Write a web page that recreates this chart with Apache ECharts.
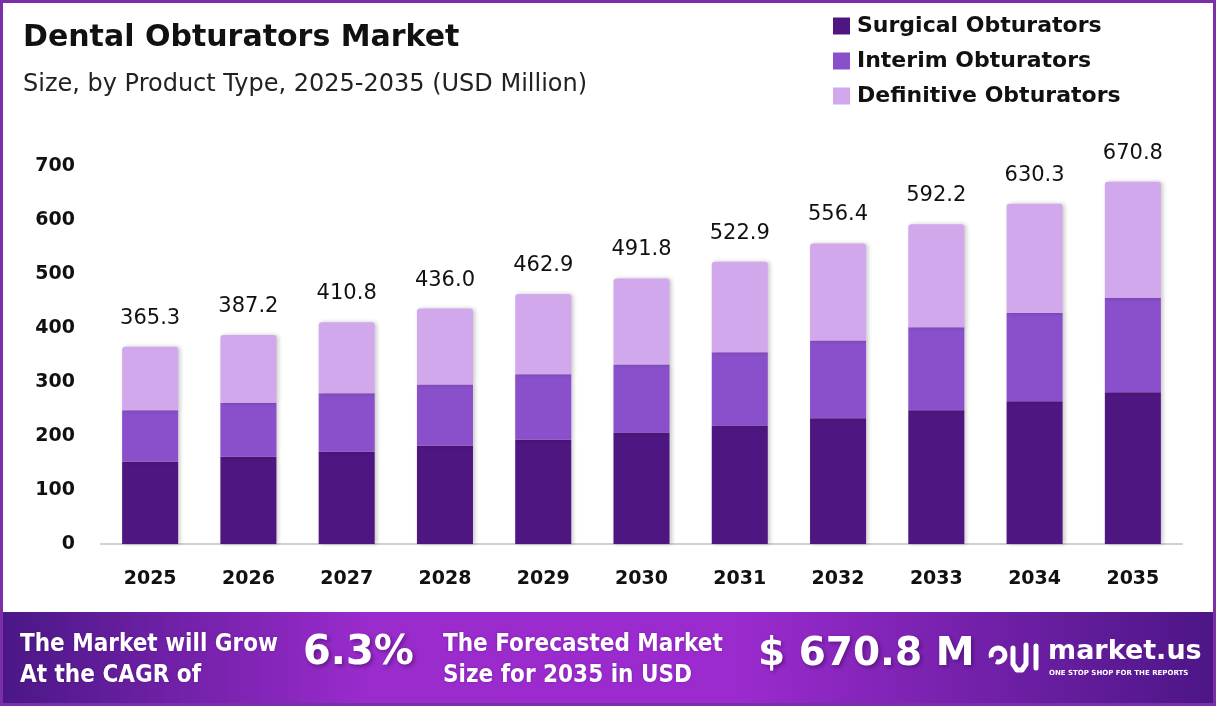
<!DOCTYPE html>
<html>
<head>
<meta charset="utf-8">
<title>Dental Obturators Market</title>
<script src="https://cdn.jsdelivr.net/npm/echarts@6/dist/echarts.min.js"></script>
<style>
  html, body { margin: 0; padding: 0; background: #fff; }
  #chart { width: 1216px; height: 706px; }
</style>
</head>
<body>
<div id="chart"></div>
<script>
// data
var years = ['2025', '2026', '2027', '2028', '2029', '2030', '2031', '2032', '2033', '2034', '2035'];
var surgical = [152.2, 161.5, 170.8, 182.0, 193.1, 206.6, 219.6, 232.7, 247.5, 264.3, 281.0];
var interim = [95.3, 100.3, 108.2, 113.2, 121.2, 125.7, 135.6, 144.2, 154.1, 163.3, 174.4];
var definitive = [117.8, 125.4, 131.8, 140.8, 148.6, 159.5, 167.7, 179.5, 190.6, 202.7, 215.4];
var totals = [365.3, 387.2, 410.8, 436.0, 462.9, 491.8, 522.9, 556.4, 592.2, 630.3, 670.8];
var seriesNames = ['Surgical Obturators', 'Interim Obturators', 'Definitive Obturators'];
var cagr = '6.3%';
var forecast = '$ 670.8 M';

var FONT = '"DejaVu Sans", Inter, sans-serif';
var BANNER_FONT = '"DejaVu Sans Condensed", "Roboto Condensed", Inter, sans-serif';
var colors = ['#4e1681', '#8a4fcb', '#d2a8ec'];

var chart = echarts.init(document.getElementById('chart'));

function barSeries(name, data, color, withTotal) {
  var s = {
    name: name,
    type: 'bar',
    stack: 'total',
    barWidth: '57%',
    data: data,
    itemStyle: {
      color: color,
      shadowColor: 'rgba(0,0,0,0.22)',
      shadowBlur: 4,
      shadowOffsetX: 2
    }
  };
  if (withTotal) {
    s.itemStyle.borderRadius = [3, 3, 0, 0];
    s.label = {
      show: true,
      position: 'top',
      distance: 18,
      fontFamily: FONT,
      fontSize: 21,
      fontWeight: 'normal',
      color: '#111',
      formatter: function (p) { return totals[p.dataIndex].toFixed(1); }
    };
  }
  return s;
}

var textShadow = { textShadowColor: 'rgba(40,0,60,0.45)', textShadowBlur: 4, textShadowOffsetX: 2, textShadowOffsetY: 2 };

chart.setOption({
  animation: false,
  backgroundColor: '#fff',
  color: colors,
  title: [
    {
      text: 'Dental Obturators Market',
      left: 18, top: 18,
      textStyle: { fontFamily: FONT, fontSize: 30, fontWeight: 700, color: '#111' }
    },
    {
      text: 'Size, by Product Type, 2025-2035 (USD Million)',
      left: 18, top: 68,
      textStyle: { fontFamily: FONT, fontSize: 24, fontWeight: 400, color: '#222' }
    }
  ],
  legend: {
    orient: 'vertical',
    left: 828, top: 10,
    itemWidth: 17, itemHeight: 17,
    itemGap: 13,
    icon: 'rect',
    textStyle: { fontFamily: FONT, fontSize: 22, fontWeight: 700, color: '#111', padding: [0, 0, 0, 2] },
    data: seriesNames
  },
  grid: { left: 101, right: 34, top: 166, bottom: 162 },
  xAxis: {
    type: 'category',
    data: years,
    axisTick: { show: false },
    axisLine: { lineStyle: { color: '#d0d0d0', width: 2 } },
    axisLabel: { margin: 26, fontFamily: FONT, fontSize: 19, fontWeight: 700, color: '#111' }
  },
  yAxis: {
    type: 'value',
    min: 0, max: 700, interval: 100,
    splitLine: { show: false },
    axisLine: { show: false },
    axisTick: { show: false },
    axisLabel: { margin: 26, fontFamily: FONT, fontSize: 19, fontWeight: 700, color: '#111' }
  },
  series: [
    barSeries(seriesNames[0], surgical, colors[0], false),
    barSeries(seriesNames[1], interim, colors[1], false),
    barSeries(seriesNames[2], definitive, colors[2], true)
  ],
  graphic: [
    // outer frame
    {
      type: 'rect', silent: true, z: 100,
      shape: { x: 1.5, y: 1.5, width: 1213, height: 703 },
      style: { fill: 'none', stroke: '#7a2fa8', lineWidth: 3 }
    },
    // bottom banner
    {
      type: 'rect', silent: true, z: 90,
      shape: { x: 0, y: 612, width: 1216, height: 94 },
      style: {
        fill: new echarts.graphic.LinearGradient(0, 0, 1, 0, [
          { offset: 0, color: '#4a1786' },
          { offset: 0.3, color: '#9a2bcc' },
          { offset: 0.6, color: '#9c2bcf' },
          { offset: 1, color: '#4c1686' }
        ])
      }
    },
    {
      type: 'text', z: 95, x: 20, y: 629,
      style: Object.assign({
        text: 'The Market will Grow\nAt the CAGR of',
        fill: '#fff', font: '700 24px ' + BANNER_FONT, lineHeight: 31
      }, { textShadowColor: 'rgba(40,0,60,0.3)', textShadowBlur: 3 })
    },
    {
      type: 'text', z: 95, x: 303, y: 634,
      style: Object.assign({ text: cagr, fill: '#fff', font: '700 40px ' + FONT }, textShadow)
    },
    {
      type: 'text', z: 95, x: 443, y: 629,
      style: Object.assign({
        text: 'The Forecasted Market\nSize for 2035 in USD',
        fill: '#fff', font: '700 24px ' + BANNER_FONT, lineHeight: 31
      }, { textShadowColor: 'rgba(40,0,60,0.3)', textShadowBlur: 3 })
    },
    {
      type: 'text', z: 95, x: 758, y: 635,
      style: Object.assign({ text: forecast, fill: '#fff', font: '700 39px ' + FONT }, textShadow)
    },
    // logo mark
    { type: 'arc', z: 96, shape: { cx: 998, cy: 655, r: 7, startAngle: Math.PI * 0.9, endAngle: Math.PI * 2.6 },
      style: { stroke: '#fff', lineWidth: 5, fill: null } },
    { type: 'polyline', z: 96, shape: { points: [[1013, 648], [1013, 664], [1017, 670], [1022, 670], [1026, 664], [1026, 645]] },
      style: { stroke: '#fff', lineWidth: 5, lineCap: 'round', lineJoin: 'round', fill: null } },
    { type: 'line', z: 96, shape: { x1: 1036, y1: 646, x2: 1036, y2: 668 }, style: { stroke: '#fff', lineWidth: 5, lineCap: 'round' } },
    {
      type: 'text', z: 95, x: 1048, y: 638,
      style: { text: 'market.us', fill: '#fff', font: '700 27px ' + FONT }
    },
    {
      type: 'text', z: 95, x: 1049, y: 670,
      style: { text: 'ONE STOP SHOP FOR THE REPORTS', fill: '#fff', font: '700 7px ' + FONT }
    }
  ]
});
</script>
</body>
</html>
